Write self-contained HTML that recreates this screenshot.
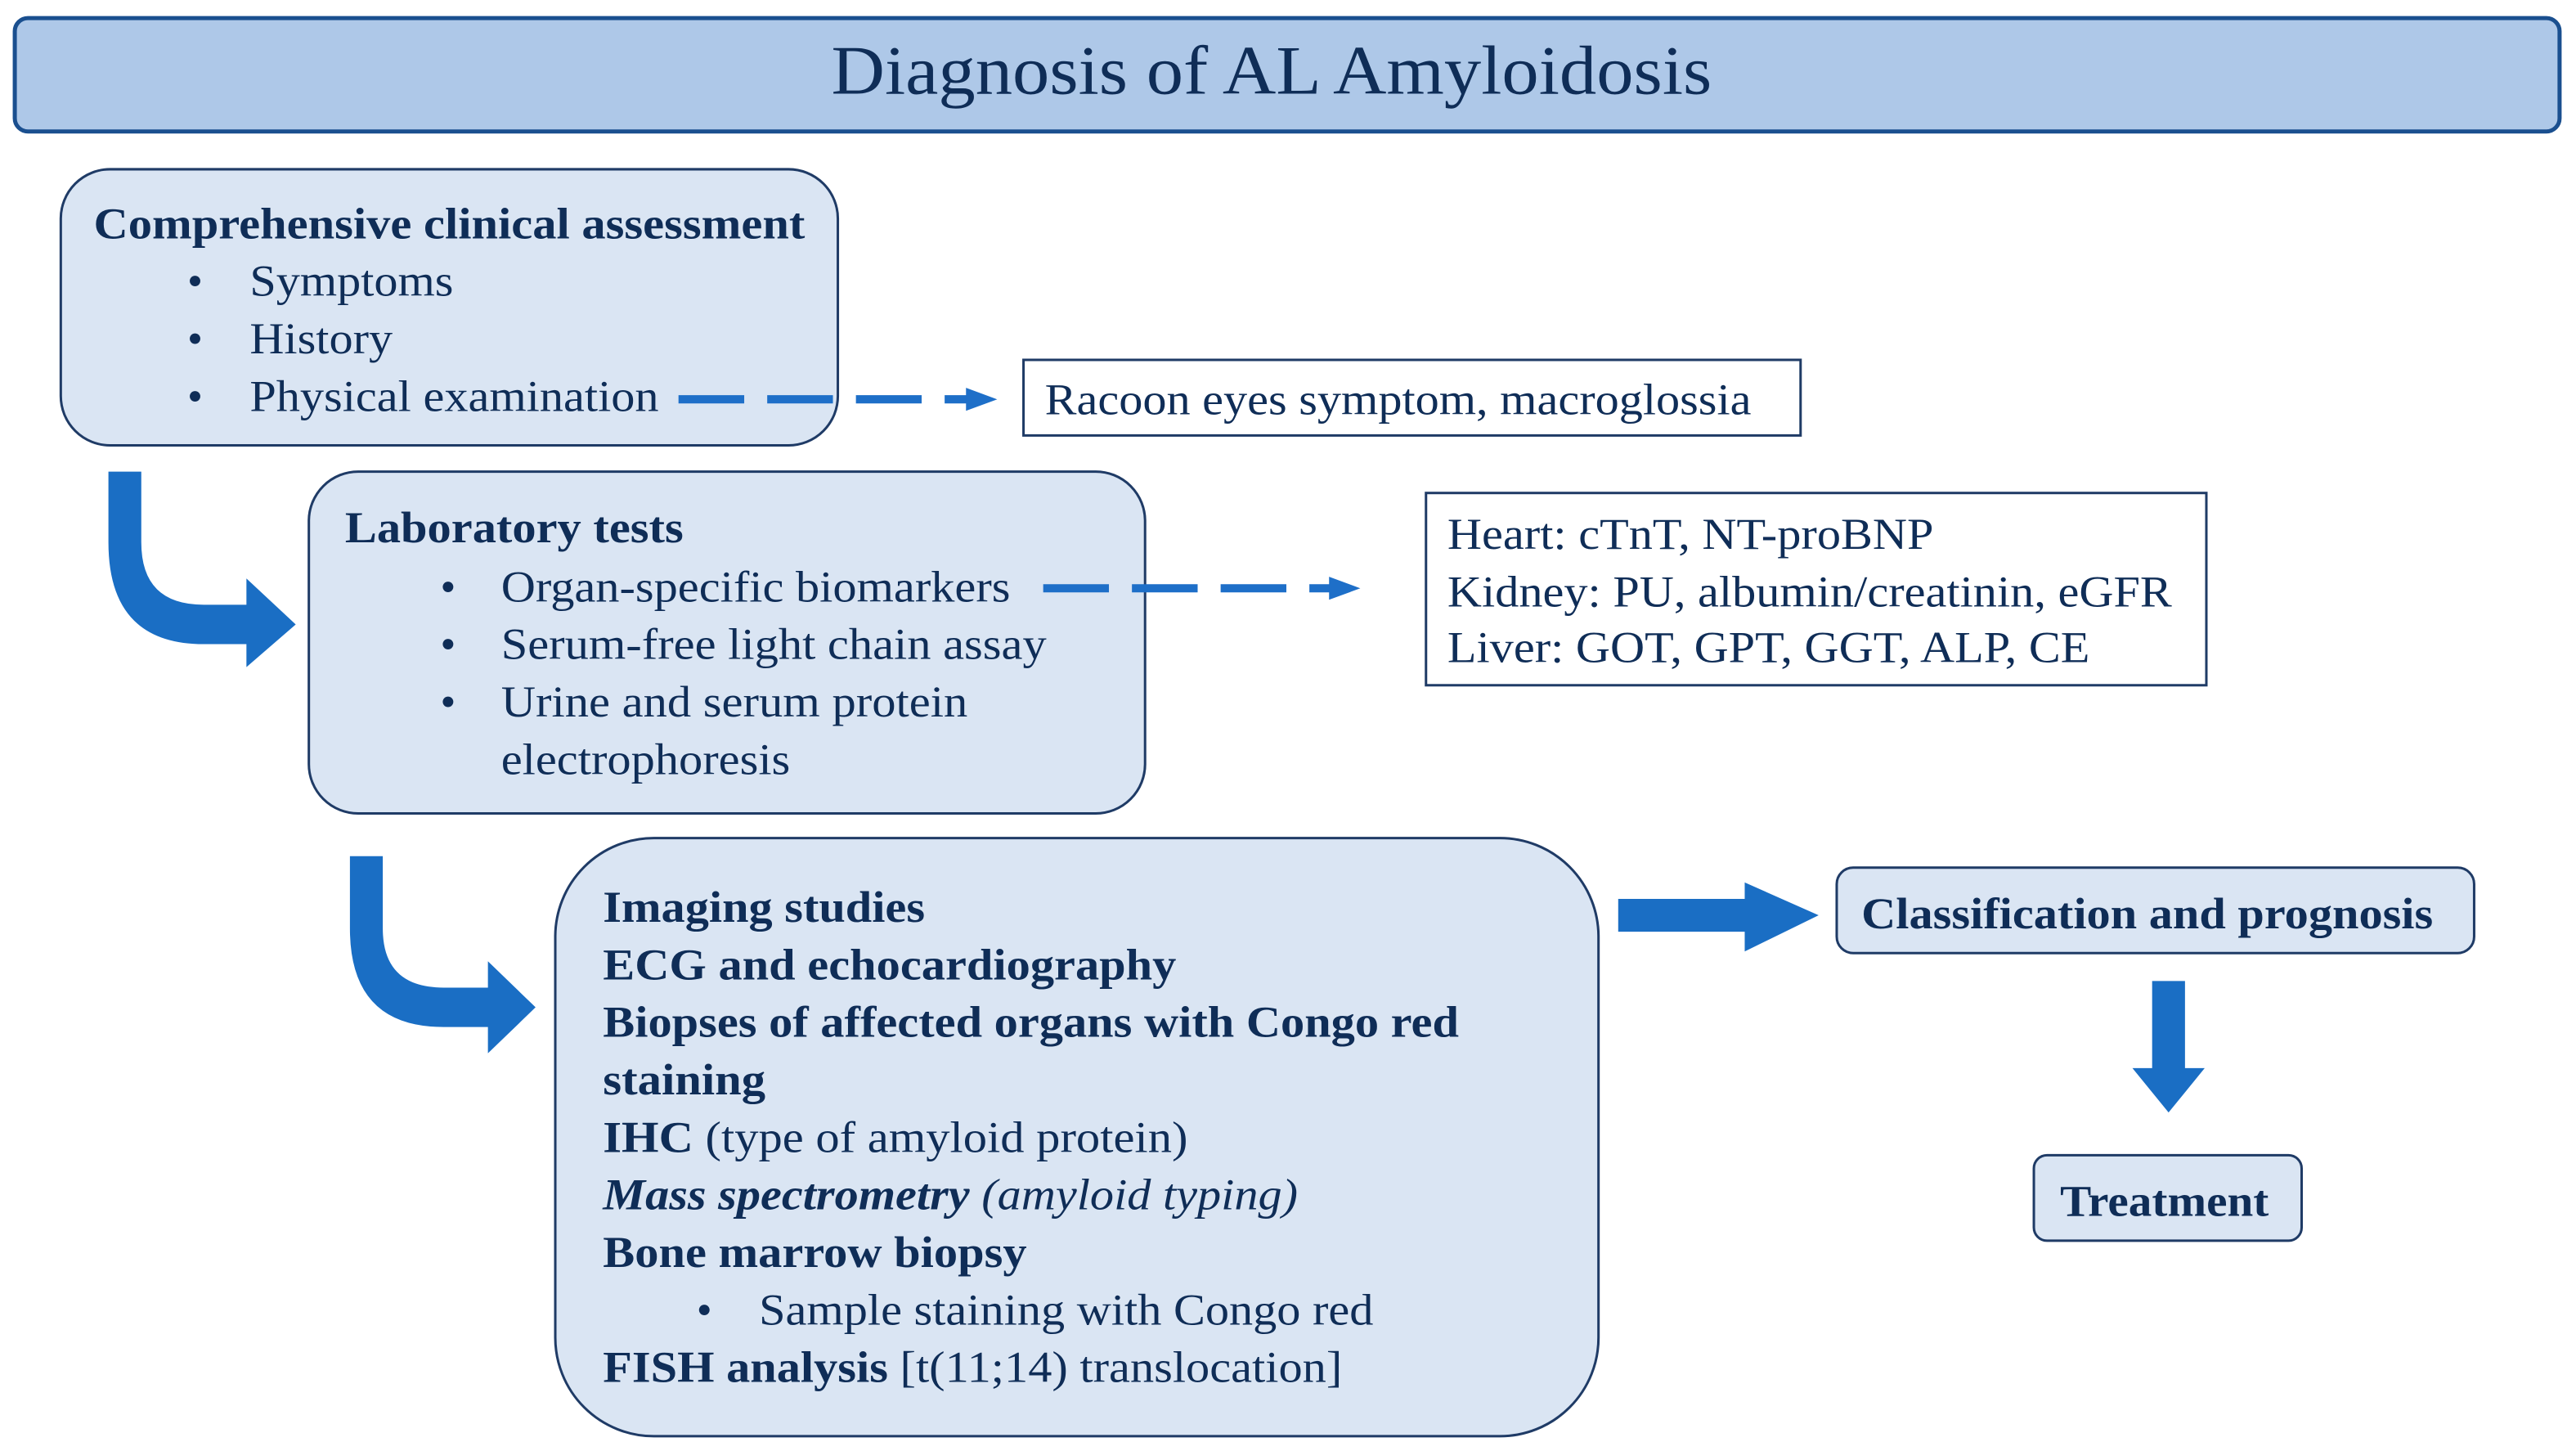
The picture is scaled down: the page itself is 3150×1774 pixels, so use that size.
<!DOCTYPE html>
<html><head><meta charset="utf-8"><style>
html,body{margin:0;padding:0;background:#fff;width:3150px;height:1774px;overflow:hidden}
svg{display:block}
text{font-family:"Liberation Serif","Times New Roman",Times,"DejaVu Serif",serif;fill:#0f2d57;font-size:27px}
.b{font-weight:bold}
</style></head><body>
<svg width="3150" height="1774" viewBox="0 0 1568 883" preserveAspectRatio="none" font-family="Liberation Serif, Times New Roman, serif">
<!-- title -->
<rect x="9" y="11" width="1549" height="69" rx="8" fill="#aec8e8" stroke="#1a4f8f" stroke-width="2.5"/>
<text x="506" y="57" textLength="536" lengthAdjust="spacingAndGlyphs" style="font-size:42px">Diagnosis of AL Amyloidosis</text>

<!-- box1 -->
<rect x="37" y="103" width="473" height="168" rx="30" fill="#dae5f3" stroke="#1f3b66" stroke-width="1.5"/>
<text x="57" y="145" class="b" textLength="433" lengthAdjust="spacingAndGlyphs">Comprehensive clinical assessment</text>
<text x="114" y="180">•</text><text x="152" y="180" textLength="124" lengthAdjust="spacingAndGlyphs">Symptoms</text>
<text x="114" y="215">•</text><text x="152" y="215" textLength="87" lengthAdjust="spacingAndGlyphs">History</text>
<text x="114" y="250">•</text><text x="152" y="250" textLength="249" lengthAdjust="spacingAndGlyphs">Physical examination</text>
<line x1="413" y1="243" x2="592" y2="243" stroke="#1e6fc8" stroke-width="5" stroke-dasharray="40,14"/>
<path d="M588,236 L607,243 L588,250 Z" fill="#1e6fc8"/>
<rect x="623" y="219" width="473" height="46" fill="#fff" stroke="#1f3b66" stroke-width="1.5"/>
<text x="636" y="252" textLength="430" lengthAdjust="spacingAndGlyphs">Racoon eyes symptom, macroglossia</text>

<!-- curved arrow 1 -->
<path d="M66,287 L86,287 L86,330 Q86,368 124,368 L150,368 L150,352 L180,380 L150,406 L150,392 L124,392 Q66,392 66,330 Z" fill="#1a6ec4"/>

<!-- box2 -->
<rect x="188" y="287" width="509" height="208" rx="30" fill="#dae5f3" stroke="#1f3b66" stroke-width="1.5"/>
<text x="210" y="330" class="b" textLength="206" lengthAdjust="spacingAndGlyphs">Laboratory tests</text>
<text x="268" y="366">•</text><text x="305" y="366" textLength="310" lengthAdjust="spacingAndGlyphs">Organ-specific biomarkers</text>
<text x="268" y="401">•</text><text x="305" y="401" textLength="332" lengthAdjust="spacingAndGlyphs">Serum-free light chain assay</text>
<text x="268" y="436">•</text><text x="305" y="436" textLength="284" lengthAdjust="spacingAndGlyphs">Urine and serum protein</text>
<text x="305" y="471" textLength="176" lengthAdjust="spacingAndGlyphs">electrophoresis</text>
<line x1="635" y1="358" x2="812" y2="358" stroke="#1e6fc8" stroke-width="5" stroke-dasharray="40,14"/>
<path d="M809,351 L828,358 L809,365 Z" fill="#1e6fc8"/>
<rect x="868" y="300" width="475" height="117" fill="#fff" stroke="#1f3b66" stroke-width="1.5"/>
<text x="881" y="334" textLength="296" lengthAdjust="spacingAndGlyphs">Heart: cTnT, NT-proBNP</text>
<text x="881" y="369" textLength="441" lengthAdjust="spacingAndGlyphs">Kidney: PU, albumin/creatinin, eGFR</text>
<text x="881" y="403" textLength="391" lengthAdjust="spacingAndGlyphs">Liver: GOT, GPT, GGT, ALP, CE</text>

<!-- curved arrow 2 -->
<path d="M213,521 L233,521 L233,565 Q233,601 270,601 L297,601 L297,585 L326,613 L297,641 L297,625 L270,625 Q213,625 213,565 Z" fill="#1a6ec4"/>

<!-- box3 -->
<rect x="338" y="510" width="635" height="364" rx="60" fill="#dae5f3" stroke="#1f3b66" stroke-width="1.5"/>
<text x="367" y="561" class="b" textLength="196" lengthAdjust="spacingAndGlyphs">Imaging studies</text>
<text x="367" y="596" class="b" textLength="349" lengthAdjust="spacingAndGlyphs">ECG and echocardiography</text>
<text x="367" y="631" class="b" textLength="521" lengthAdjust="spacingAndGlyphs">Biopses of affected organs with Congo red</text>
<text x="367" y="666" class="b" textLength="99" lengthAdjust="spacingAndGlyphs">staining</text>
<text x="367" y="701" textLength="356" lengthAdjust="spacingAndGlyphs"><tspan class="b">IHC</tspan> (type of amyloid protein)</text>
<text x="367" y="736" font-style="italic" textLength="423" lengthAdjust="spacingAndGlyphs"><tspan class="b">Mass spectrometry</tspan> (amyloid typing)</text>
<text x="367" y="771" class="b" textLength="258" lengthAdjust="spacingAndGlyphs">Bone marrow biopsy</text>
<text x="424" y="806">•</text><text x="462" y="806" textLength="374" lengthAdjust="spacingAndGlyphs">Sample staining with Congo red</text>
<text x="367" y="841" textLength="450" lengthAdjust="spacingAndGlyphs"><tspan class="b">FISH analysis</tspan> [t(11;14) translocation]</text>

<!-- right arrow -->
<path d="M985,547 L1062,547 L1062,537 L1107,557 L1062,579 L1062,567 L985,567 Z" fill="#1a6ec4"/>
<rect x="1118" y="528" width="388" height="52" rx="10" fill="#dae5f3" stroke="#1f3b66" stroke-width="1.5"/>
<text x="1133" y="565" class="b" textLength="348" lengthAdjust="spacingAndGlyphs">Classification and prognosis</text>
<!-- down arrow -->
<path d="M1310,597 L1330,597 L1330,650 L1342,650 L1320,677 L1298,650 L1310,650 Z" fill="#1a6ec4"/>
<rect x="1238" y="703" width="163" height="52" rx="8" fill="#dae5f3" stroke="#1f3b66" stroke-width="1.5"/>
<text x="1254" y="740" class="b" textLength="127" lengthAdjust="spacingAndGlyphs">Treatment</text>
</svg>
</body></html>
